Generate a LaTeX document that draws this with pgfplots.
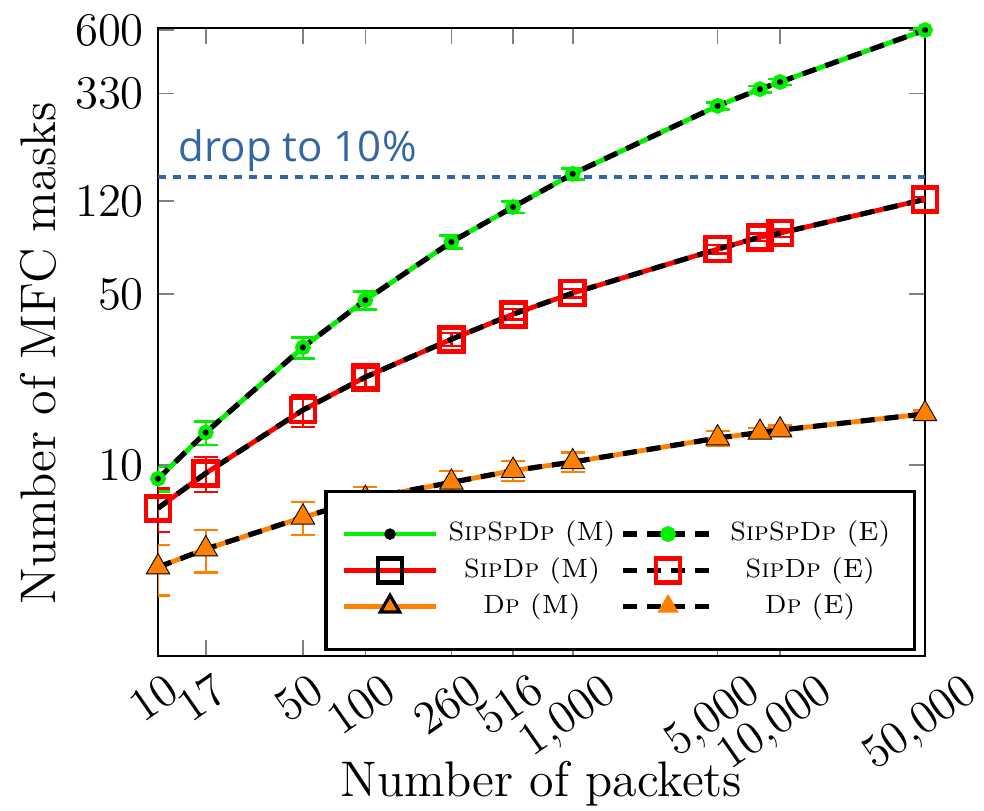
\documentclass[border=0pt]{standalone}
\usepackage{fontspec}
\newfontfamily\opensans{Open Sans}
\usepackage{pgfplots}
\pgfplotsset{compat=1.18}
\definecolor{mgreen}{RGB}{0,240,0}
\definecolor{morange}{RGB}{255,128,0}
\definecolor{dropblue}{RGB}{52,101,164}

\pgfplotstableread{
x y e
10 8.8 1.0
17 13.6 1.5
50 30.3 3
100 47.3 4
260 81.7 5
516 113.5 6
1000 155 8
5000 294 10
8000 344 10
10000 368 10
50000 600 10
}\greentab
\pgfplotstableread{
x y e
10 6.67 1.35
17 9.27 1.5
50 16.8 2.5
100 22.9 2
260 32.7 2
516 41.4 2
1000 50.5 2
5000 76.4 3
8000 85.5 3
10000 88.8 3
50000 122 3
}\redtab
\pgfplotstableread{
x y e
10 3.83 0.9
17 4.54 0.9
50 6.12 0.95
100 7.3 0.85
260 8.5 0.95
516 9.5 0.9
1000 10.3 0.95
5000 12.9 0.9
8000 13.6 0.6
10000 13.9 0.6
50000 16.2 0.5
}\orangetab

\begin{document}
\begin{tikzpicture}
\path[use as bounding box] (0,0) rectangle (246pt,202.75pt);
\begin{axis}[
  at={(39.5pt,38.75pt)}, anchor=south west,
  scale only axis, width=191.75pt, height=157pt,
  xmode=log, ymode=log,
  xmin=10, xmax=50000, ymin=1.66, ymax=612,
  xtick={10,17,50,100,260,516,1000,5000,10000,50000},
  xticklabels={10,17,50,100,260,516,{1,000},{5,000},{10,000},{50,000}},
  ytick={10,50,120,330,600},
  yticklabels={10,50,120,330,600},
  minor tick length=0pt,
  major tick length=4pt,
  tick style={gray, line width=0.4pt},
  axis line style={line width=0.6pt},
  tick label style={font=\fontsize{11.7}{14}\selectfont},
  x tick label style={xshift=-1pt, yshift=1pt, rotate=35},
  xlabel={Number of packets}, ylabel={Number of MFC masks},
  every axis x label/.style={at={(axis description cs:0.5,-0.2245)}, anchor=base,
    font=\fontsize{12.5}{15}\selectfont},
  every axis y label/.style={at={(axis description cs:-0.134,0.482)}, rotate=90, anchor=base,
    font=\fontsize{12.5}{15}\selectfont},
  legend columns=2,
  legend cell align=center,
  legend style={at={(0.988,0.008)}, anchor=south east, draw=black, line width=0.8pt,
    font=\fontsize{6.6}{8}\selectfont, row sep=-1.4pt, inner ysep=5.5pt, inner xsep=4pt,
    /tikz/every odd column/.append style={column sep=1.5pt},
    /tikz/every even column/.append style={column sep=0pt}},
  legend image code/.code={\draw[mark repeat=2,mark phase=2,#1] plot coordinates {(0cm,0cm) (0.4cm,0cm) (0.8cm,0cm)};},
]
% SipSpDp
\addplot[mgreen, line width=1.2pt, mark=*, mark size=0.8pt, mark options={black, solid},
  error bars/.cd, y dir=both, y explicit,
  error bar style={mgreen, line width=0.6pt, solid},
  error mark options={rotate=90, mgreen, mark size=3pt, line width=0.6pt}]
  table[x=x, y=y, y error=e] {\greentab};
\addlegendentry{\makebox[40pt]{\textsc{SipSpDp} (M)}}
\addplot[black, line width=1.3pt, dash pattern=on 3.5pt off 2.5pt, mark=*, mark size=1.3pt,
  mark options={solid, fill=mgreen, draw=mgreen}]
  table[x=x, y=y] {\greentab};
\addlegendentry{\makebox[40pt]{\textsc{SipSpDp} (E)}}
% SipDp
\addplot[red, line width=1.2pt, mark=square, mark size=3pt, mark options={black, solid, line width=1.2pt},
  error bars/.cd, y dir=both, y explicit,
  error bar style={red, line width=0.6pt, solid},
  error mark options={rotate=90, red, mark size=3pt, line width=0.6pt}]
  table[x=x, y=y, y error=e] {\redtab};
\addlegendentry{\makebox[40pt]{\textsc{SipDp} (M)}}
\addplot[black, line width=1.3pt, dash pattern=on 3.5pt off 2.5pt, mark=square, mark size=3pt,
  mark options={solid, draw=red, line width=1.2pt}]
  table[x=x, y=y] {\redtab};
\addlegendentry{\makebox[40pt]{\textsc{SipDp} (E)}}
% Dp
\addplot[morange, line width=1.2pt, mark=triangle*, mark size=2.8pt,
  mark options={solid, fill=morange, draw=black, line width=0.8pt},
  error bars/.cd, y dir=both, y explicit,
  error bar style={morange, line width=0.6pt, solid},
  error mark options={rotate=90, morange, mark size=3pt, line width=0.6pt}]
  table[x=x, y=y, y error=e] {\orangetab};
\addlegendentry{\makebox[40pt]{\textsc{Dp} (M)}}
\addplot[black, line width=1.3pt, dash pattern=on 3.5pt off 2.5pt, mark=triangle*, mark size=1.8pt,
  mark options={solid, fill=morange, draw=morange}]
  table[x=x, y=y] {\orangetab};
\addlegendentry{\makebox[40pt]{\textsc{Dp} (E)}}
% black centres of the green markers
\addplot[only marks, mark=*, mark size=0.55pt, black, forget plot] table[x=x, y=y] {\greentab};
% drop line
\addplot[dropblue, line width=1pt, dash pattern=on 2pt off 1.8pt, forget plot]
  coordinates {(10,150) (50000,150)};
\node[anchor=base west, text=dropblue, font=\opensans\fontsize{10.5}{12}\selectfont,
  xshift=5pt, yshift=4pt, inner sep=0pt] at (axis cs:10,150) {drop to 10\%};
\end{axis}
\end{tikzpicture}
\end{document}
